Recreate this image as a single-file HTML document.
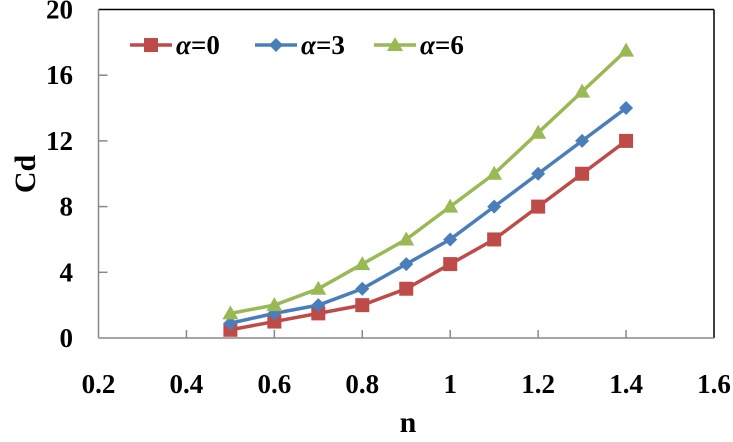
<!DOCTYPE html>
<html><head><meta charset="utf-8"><style>
body{margin:0;background:#fff}
svg text{font-family:"Liberation Serif","Times New Roman",serif;font-weight:bold;fill:#000}
</style></head><body>
<svg width="733" height="437" id="c">
<line x1="98.5" y1="9.5" x2="714" y2="9.5" stroke="#000" stroke-width="1.5"/>
<line x1="714" y1="9.5" x2="714" y2="338" stroke="#000" stroke-width="1.5"/>
<line x1="98.5" y1="9.5" x2="98.5" y2="338" stroke="#888" stroke-width="1.5"/>
<line x1="98.5" y1="338" x2="714" y2="338" stroke="#888" stroke-width="1.5"/>
<text x="408" y="432" font-size="30" text-anchor="middle">n</text>
<text transform="translate(35,174) rotate(-90)" font-size="30" text-anchor="middle">Cd</text>
<g id="g"></g>
</svg>
<script>
const xTicks=[0.2,0.4,0.6,0.8,1,1.2,1.4,1.6];
const xTickLabels=["0.2","0.4","0.6","0.8","1","1.2","1.4","1.6"];
const yTicks=[0,4,8,12,16,20];
const nValues=[0.5,0.6,0.7,0.8,0.9,1.0,1.1,1.2,1.3,1.4];
const seriesA0=[0.5,1,1.5,2,3,4.5,6,8,10,12];
const seriesA3=[0.9,1.5,2,3,4.5,6,8,10,12,14];
const seriesA6=[1.5,2,3,4.5,6,8,10,12.5,15,17.5];
const seriesNames=["=0","=3","=6"];
const NS="http://www.w3.org/2000/svg";
const g=document.getElementById('g');
const X=v=>98.5+(v-0.2)/1.4*615.5;
const Y=v=>338-v/20*328.5;
function mk(t,a,p){const e=document.createElementNS(NS,t);for(const k in a)e.setAttribute(k,a[k]);(p||g).appendChild(e);return e;}
xTicks.forEach((v,i)=>{
 if(i>0&&i<xTicks.length-1){const l=mk('line',{x1:X(v),x2:X(v),y1:338,y2:330,stroke:'#888','stroke-width':1.5});
 
 }
 const t=mk('text',{x:X(v),y:393,'font-size':27,'text-anchor':'middle'});t.textContent=xTickLabels[i];
 
 
});
yTicks.forEach(v=>{
 if(v>0&&v<20){const l=mk('line',{x1:98.5,x2:107.5,y1:Y(v),y2:Y(v),stroke:'#888','stroke-width':1.5});
 
 }
 const t=mk('text',{x:73,y:Y(v)+9,'font-size':27,'text-anchor':'end'});t.textContent=String(v);
 
 
});
const colors=["#be4b48","#4a7ebb","#98b954"];
const shapes=["sq","di","tr"];
function marker(s,x,y,c,name){
 let e;
 if(s==='sq')e=mk('rect',{x:x-7,y:y-7,width:14,height:14,fill:c});
 else if(s==='di')e=mk('polygon',{points:`${x},${y-7} ${x+7},${y} ${x},${y+7} ${x-7},${y}`,fill:c});
 else e=mk('polygon',{points:`${x},${y-8} ${x+8},${y+6} ${x-8},${y+6}`,fill:c});
 
 
}
[seriesA0,seriesA3,seriesA6].forEach((s,k)=>{
 const p=mk('polyline',{points:s.map((v,i)=>X(nValues[i])+','+Y(v)).join(' '),fill:'none',stroke:colors[k],'stroke-width':3.5});
 
 
 s.forEach((v,i)=>marker(shapes[k],X(nValues[i]),Y(v),colors[k],'point-series-'+k));
 const lx=[130,255,374][k];
 const ll=mk('line',{x1:lx,x2:lx+42,y1:45,y2:45,stroke:colors[k],'stroke-width':3.5});
 
 
 marker(shapes[k],lx+21,45,colors[k],'legend-marker');
 const t=mk('text',{x:lx+46,y:54,'font-size':27});
 const a=mk('tspan',{'font-style':'italic'},t);a.textContent='α';
 const b=mk('tspan',{},t);b.textContent=seriesNames[k];
 
 
});
</script>
</body></html>
